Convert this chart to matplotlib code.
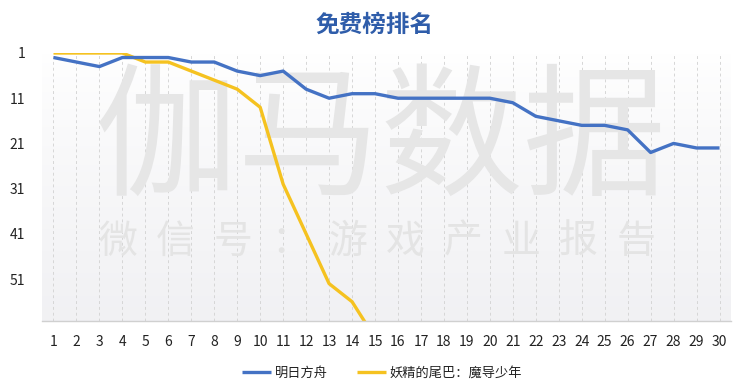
import matplotlib
matplotlib.use("Agg")
import matplotlib.pyplot as plt
import numpy as np

plt.rcParams['font.family'] = ['Noto Sans CJK SC', 'DejaVu Sans']

days = list(range(1, 31))
arknights = [2, 3, 4, 2, 2, 2, 3, 3, 5, 6, 5, 9, 11, 10, 10,
             11, 11, 11, 11, 11, 12, 15, 16, 17, 17, 18, 23, 21, 22, 22]
fairytail = [1, 1, 1, 1, 3, 3, 5, 7, 9, 13, 30, 41, 52, 56, 64] + [np.nan] * 15
y_ticks = [1, 11, 21, 31, 41, 51]
name_a = "明日方舟"
name_b = "妖精的尾巴：魔导少年"
title = "免费榜排名"
wm_big = "伽马数据"
wm_small = "微信号：游戏产业报告"

W, H = 750, 392
fig = plt.figure(figsize=(W / 100, H / 100), dpi=100)
fig.patch.set_facecolor('white')

def fx(px):
    return px / W

def fy(py):
    return 1 - py / H

ax = fig.add_axes([fx(42), fy(320.7), fx(731) - fx(42), fy(53) - fy(320.7)])
ax.set_xlim(0.5, 30.5)
ax.set_ylim(60.2, 1)

# subtle gradient background in plot area
grad = np.linspace(0, 1, 256).reshape(-1, 1)
c_top = np.array([1.0, 1.0, 1.0])
c_bot = np.array([0.945, 0.945, 0.955])
img = c_top + (c_bot - c_top) * grad[..., None] ** 0.8
ax.imshow(img, extent=[0, 1, 0, 1], transform=ax.transAxes, aspect='auto',
          zorder=0, origin='upper')

# watermark (drawn inside the axes so lines sit on top)
ax.text(fx(381), fy(143), wm_big, fontsize=103, color='#E6E6E6',
        fontweight='light', ha='center', va='center', zorder=1,
        transform=fig.transFigure, clip_on=False)
n = len(wm_small)
x0, x1 = 118, 636
for i, ch in enumerate(wm_small):
    ax.text(fx(x0 + (x1 - x0) * i / (n - 1)), fy(242), ch, fontsize=28,
            color='#E4E4E4', fontweight='light', ha='center', va='center',
            zorder=1, transform=fig.transFigure, clip_on=False)

ax.set_xticks(days)
ax.set_yticks(y_ticks)
ax.xaxis.grid(True, linestyle=(0, (3, 3)), color='#D6D6D6', linewidth=0.7)
ax.yaxis.grid(False)
ax.set_axisbelow(True)

for s in ['top', 'right', 'left']:
    ax.spines[s].set_visible(False)
ax.spines['bottom'].set_color('#D0D0D0')
ax.spines['bottom'].set_linewidth(1.0)
ax.spines['bottom'].set_zorder(5)

ax.tick_params(axis='both', length=0, labelsize=10, colors='#222222')
ax.tick_params(axis='x', pad=10)
ax.tick_params(axis='y', pad=12)

ax.plot(days, arknights, color='#4472C4', linewidth=2.4, label=name_a,
        zorder=4, solid_capstyle='butt', clip_on=False)
ax.plot(days, fairytail, color='#F5C220', linewidth=2.4, label=name_b,
        zorder=3, solid_capstyle='butt')
ax.patch.set_alpha(0)

fig.text(fx(375), fy(25), title, fontsize=17, fontweight='bold',
         color='#2F5DAA', ha='center', va='center')

leg = fig.legend(loc='center', bbox_to_anchor=(fx(382), fy(373)), ncol=2,
                 frameon=False, fontsize=9.5, handlelength=2.2,
                 columnspacing=2.2, handletextpad=0.3)
for t in leg.get_texts():
    t.set_color('#222222')

fig.savefig('out.png', dpi=100)
